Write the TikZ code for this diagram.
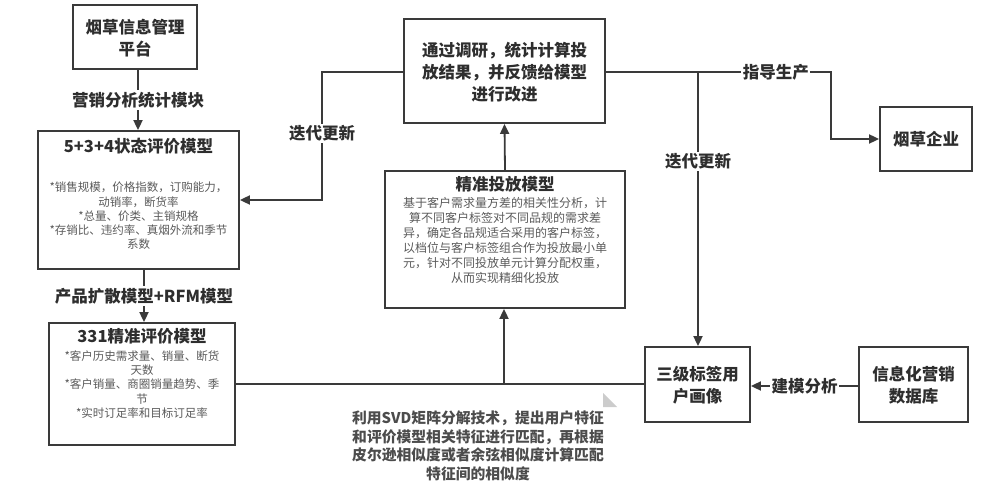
\documentclass[tikz,border=0pt]{standalone}
\usepackage{fontspec}
\setmainfont{Noto Sans CJK SC}
\usetikzlibrary{arrows.meta}
\definecolor{ln}{HTML}{3A3A3A}
\definecolor{tx}{HTML}{2E2E2E}
\definecolor{gy}{HTML}{5A5A5A}
\tikzset{
  box/.style={draw=ln, line width=1.8pt, rectangle, inner sep=0pt},
  bigtxt/.style={font=\fontsize{16.5}{22}\selectfont\bfseries, text=tx, align=center, inner sep=0pt},
  ttl/.style={font=\fontsize{16.5}{20}\selectfont\bfseries, text=tx, align=center, inner sep=0pt},
  body/.style={font=\fontsize{11.5}{14.2}\selectfont, text=gy, align=center, inner sep=0pt},
  lbl/.style={font=\fontsize{16.5}{20}\selectfont\bfseries, text=tx, fill=white, inner sep=1.5pt},
  conn/.style={draw=ln, line width=1.8pt},
  arr/.style={conn, -{Triangle[width=9pt,length=10pt]}}
}
\begin{document}
\begin{tikzpicture}[x=1pt,y=-1pt]
\useasboundingbox (0,0) rectangle (993,489);
% boxes
\node[box, minimum width=124pt, minimum height=64pt] (plat) at (135,37) {};
\node[bigtxt] (platT) at (135,38) {烟草信息管理\\平台};
\node[box, minimum width=201pt, minimum height=138pt] (m534) at (138.5,200) {};
\node[ttl] (m534T) at (138.5,146) {5+3+4状态评价模型};
\node[body] (m534B) at (138.5,216) {*销售规模，价格指数，订购能力，\\动销率，断货率\\*总量、价类、主销规格\\*存销比、违约率、真烟外流和季节\\系数};
\node[box, minimum width=186pt, minimum height=122pt] (m331) at (142,384) {};
\node[ttl] (m331T) at (142,336) {331精准评价模型};
\node[body] (m331B) at (142,384.5) {*客户历史需求量、销量、断货\\天数\\*客户销量、商圈销量趋势、季\\节\\*实时订足率和目标订足率};
\node[box, minimum width=201pt, minimum height=104pt] (fb) at (504.5,71) {};
\node[bigtxt] (fbT) at (504.5,72) {通过调研，统计计算投\\放结果，并反馈给模型\\进行改进};
\node[box, minimum width=240pt, minimum height=137pt] (jz) at (505,239.5) {};
\node[ttl] (jzT) at (505,184) {精准投放模型};
\node[body, font=\fontsize{12}{15}\selectfont] (jzB) at (505,240) {基于客户需求量方差的相关性分析，计\\算不同客户标签对不同品规的需求差\\异，确定各品规适合采用的客户标签，\\以档位与客户标签组合作为投放最小单\\元，针对不同投放单元计算分配权重，\\从而实现精细化投放};
\node[box, minimum width=92pt, minimum height=64pt] (qy) at (926,139) {};
\node[bigtxt] (qyT) at (926,139) {烟草企业};
\node[box, minimum width=105pt, minimum height=75pt] (sj) at (697.5,384.5) {};
\node[bigtxt] (sjT) at (697.5,385.5) {三级标签用\\户画像};
\node[box, minimum width=109pt, minimum height=75pt] (xx) at (913.5,384.5) {};
\node[bigtxt] (xxT) at (913.5,385.5) {信息化营销\\数据库};
% connectors
\draw[arr] (plat.south -| 138,0) -- node[lbl] (l1) {营销分析统计模块} (m534.north -| 138,0);
\draw[arr] (m534.south -| 144,0) -- node[lbl] (l2) {产品扩散模型+RFM模型} (m331.north -| 144,0);
\draw[conn] (m331.east |- 0,384) -- (sj.west |- 0,384);
\coordinate (jb) at (504,384);
\draw[arr] (jb) -- (jz.south -| jb);
\draw[arr] (jz.north) -- (fb.south);
\coordinate (lc) at (322,72);
\draw[arr] (fb.west |- lc) -- (lc) -- node[lbl, pos=0.48] (l3) {迭代更新} (322,200) -- (m534.east |- 0,200);
\coordinate (rc) at (831,72);
\coordinate (bj) at (698,72);
\draw[arr] (fb.east |- rc) -- node[lbl, pos=0.755] (l4) {指导生产} (rc) -- (rc |- qy.west) -- (qy.west);
\draw[arr] (bj) -- node[lbl, pos=0.326] (l5) {迭代更新} (sj.north -| bj);
\draw[arr] (xx.west |- 0,386) -- node[lbl, pos=0.5] (l6) {建模分析} (sj.east |- 0,386);
% bottom note
\node[font=\fontsize{14.8}{18.5}\selectfont\bfseries, text=gy!85!black, align=center, inner sep=0pt] (note) at (478,446) {利用SVD矩阵分解技术，提出用户特征\\和评价模型相关特征进行匹配，再根据\\皮尔逊相似度或者余弦相似度计算匹配\\特征间的相似度};
\fill[black!20] (603,393) -- (603,407) -- (617,407) -- cycle;
\end{tikzpicture}
\end{document}
